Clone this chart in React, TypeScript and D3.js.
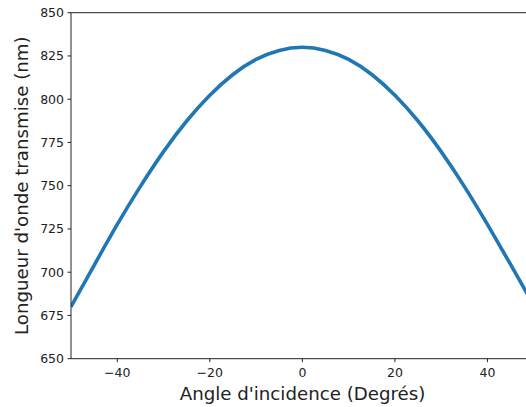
import React from "react";
import * as d3 from "d3";

const angles = [-50, -45, -40, -35, -30, -25, -20, -15, -10, -5, 0, 5, 10, 15, 20, 25, 30, 35, 40, 45, 50];
const wavelengths = [680, 704, 727.6, 749.6, 769.7, 787.4, 802.3, 814.3, 823, 828.2, 830, 828.2, 823, 814.3, 802.3, 787.4, 769.7, 749.6, 727.6, 704.5, 681];
const xTicks = [-40, -20, 0, 20, 40];
const yTicks = [650, 675, 700, 725, 750, 775, 800, 825, 850];
const xLabel = "Angle d'incidence (Degrés)";
const yLabel = "Longueur d'onde transmise (nm)";

const W = 526, H = 407;
const left = 71, top = 12.7, bottom = 358.7;
const x = d3.scaleLinear().domain([-50, 50]).range([left, 533.7]);
const y = d3.scaleLinear().domain([650, 850]).range([bottom, top]);

export default function App() {
  const line = d3.line<number>().x((_, i) => x(angles[i])).y((d) => y(d)).curve(d3.curveNatural);
  const font = "DejaVu Sans, sans-serif";
  return (
    <svg width={W} height={H} style={{ position: "absolute", left: 0, top: 0, overflow: "hidden", background: "#fff" }}>
      <defs>
        <clipPath id="plot"><rect x={left} y={top} width={533.7 - left} height={bottom - top} /></clipPath>
      </defs>
      <path d={line(wavelengths) || ""} fill="none" stroke="#1f77b4" strokeWidth={3.6} clipPath="url(#plot)" />
      <line x1={left} x2={W + 10} y1={top} y2={top} stroke="#222" strokeWidth={1} />
      <line x1={left} x2={left} y1={top} y2={bottom} stroke="#222" strokeWidth={1} />
      <line x1={left} x2={W + 10} y1={bottom} y2={bottom} stroke="#222" strokeWidth={1} />
      {xTicks.map((t) => (
        <g key={t} transform={`translate(${x(t)},${bottom})`}>
          <line y2={3.5} stroke="#222" />
          <text y={18} textAnchor="middle" fontFamily={font} fontSize={12.5} fill="#222">{t < 0 ? "\u2212" + Math.abs(t) : t}</text>
        </g>
      ))}
      {yTicks.map((t) => (
        <g key={t} transform={`translate(${left},${y(t)})`}>
          <line x2={-3.5} stroke="#222" />
          <text x={-7} dy="0.35em" textAnchor="end" fontFamily={font} fontSize={12.5} fill="#222">{t}</text>
        </g>
      ))}
      <text x={302.5} y={400} textAnchor="middle" fontFamily={font} fontSize={18.2} fill="#222">{xLabel}</text>
      <text transform={`translate(28,${(top + bottom) / 2}) rotate(-90)`} textAnchor="middle" fontFamily={font} fontSize={18.2} fill="#222">{yLabel}</text>
    </svg>
  );
}
